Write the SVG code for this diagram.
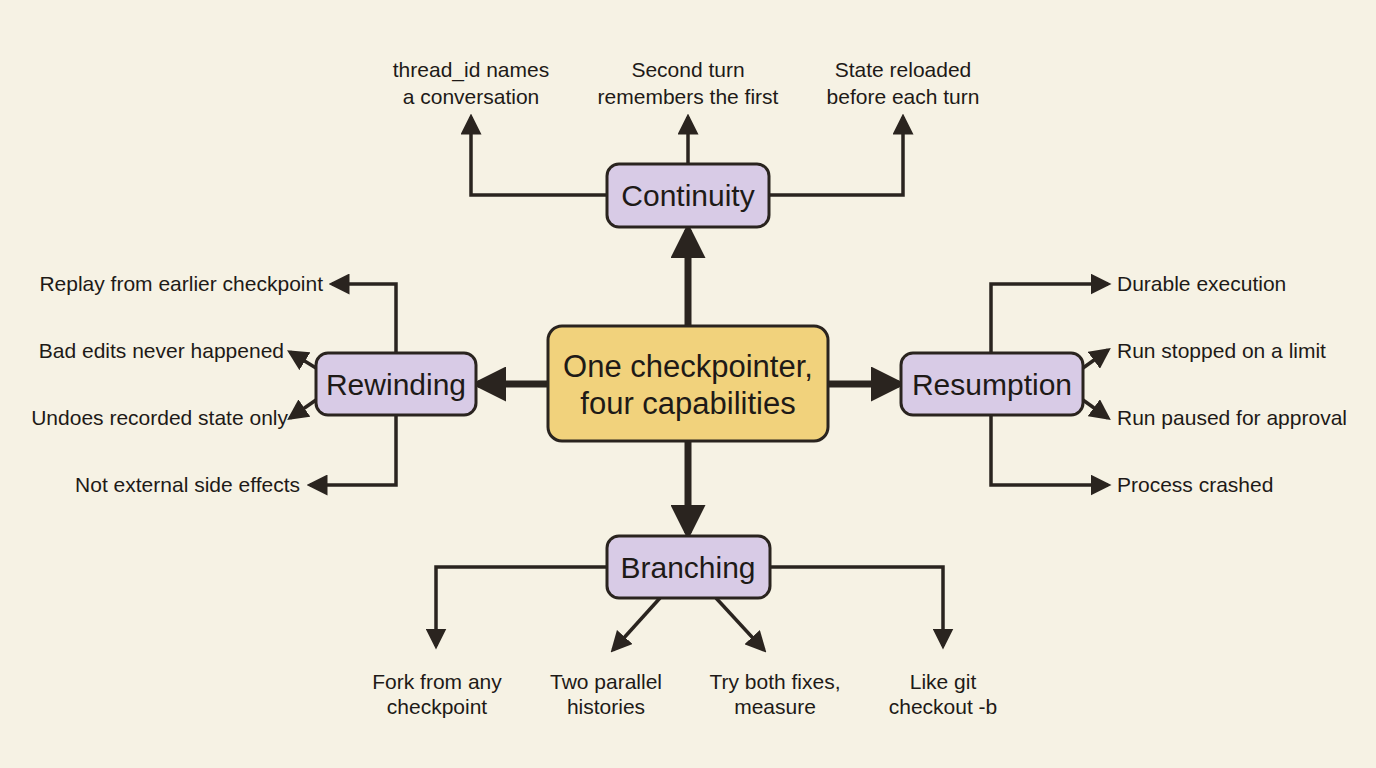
<svg xmlns="http://www.w3.org/2000/svg" width="1376" height="768" viewBox="0 0 1376 768">
<style>
.n{fill:#d8cbe6;stroke:#2a241f;stroke-width:3}
.t{font-family:"Liberation Sans",Arial,sans-serif;fill:#1e1a17}
.big{font-size:30px}
.cen{font-size:31px}
.sm{font-size:21px}
.c path{fill:none;stroke:#2a241f;stroke-width:3.5;marker-end:url(#a)}
.c path.th{stroke-width:7;marker-end:url(#b)}
</style>
<defs>
<marker id="a" markerWidth="6" markerHeight="6" refX="5" refY="3" orient="auto" markerUnits="strokeWidth"><path d="M0,0L6,3L0,6z" fill="#2a241f"/></marker>
<marker id="b" markerWidth="5" markerHeight="5" refX="4" refY="2.5" orient="auto" markerUnits="strokeWidth"><path d="M0,0L5,2.5L0,5z" fill="#2a241f"/></marker>
</defs>
<rect width="1376" height="768" fill="#f6f2e4"/>
<g class="c">
<path class="th" d="M688,326V230"/>
<path class="th" d="M548,384H478"/>
<path class="th" d="M828,384H899"/>
<path class="th" d="M688,441V533"/>
<path d="M607,195H471V117"/>
<path d="M688,164V117"/>
<path d="M769,195H903V117"/>
<path d="M396,353V284H332"/>
<path d="M396,415V485H310"/>
<path d="M316,368L290,352"/>
<path d="M316,400L290,418"/>
<path d="M991,353V284H1108"/>
<path d="M991,415V485H1108"/>
<path d="M1083,368L1108,350"/>
<path d="M1083,400L1108,418"/>
<path d="M607,567H436V646"/>
<path d="M770,567H943V646"/>
<path d="M660,598L613,650"/>
<path d="M716,598L764,650"/>
</g>
<g id="center"><rect x="548" y="326" width="280" height="115" rx="14" fill="#f1d27c" stroke="#2a241f" stroke-width="3"/>
<text class="t cen" x="688" y="377" text-anchor="middle">One checkpointer,</text>
<text class="t cen" x="688" y="414" text-anchor="middle">four capabilities</text></g>
<g id="continuity"><rect class="n" x="607" y="164" width="162" height="63" rx="12"/><text class="t big" x="688" y="206" text-anchor="middle">Continuity</text></g>
<g id="rewinding"><rect class="n" x="316" y="353" width="160" height="62" rx="12"/><text class="t big" x="396" y="395" text-anchor="middle">Rewinding</text></g>
<g id="resumption"><rect class="n" x="901" y="353" width="182" height="62" rx="12"/><text class="t big" x="992" y="395" text-anchor="middle">Resumption</text></g>
<g id="branching"><rect class="n" x="607" y="536" width="163" height="62" rx="12"/><text class="t big" x="688" y="578" text-anchor="middle">Branching</text></g>
<g id="labels" class="t sm">
<text x="471" y="77" text-anchor="middle">thread_id names</text><text x="471" y="104" text-anchor="middle">a conversation</text>
<text x="688" y="77" text-anchor="middle">Second turn</text><text x="688" y="104" text-anchor="middle">remembers the first</text>
<text x="903" y="77" text-anchor="middle">State reloaded</text><text x="903" y="104" text-anchor="middle">before each turn</text>
<text x="323" y="291" text-anchor="end">Replay from earlier checkpoint</text>
<text x="284" y="358" text-anchor="end">Bad edits never happened</text>
<text x="288" y="425" text-anchor="end">Undoes recorded state only</text>
<text x="300" y="492" text-anchor="end">Not external side effects</text>
<text x="1117" y="291">Durable execution</text>
<text x="1117" y="358">Run stopped on a limit</text>
<text x="1117" y="425">Run paused for approval</text>
<text x="1117" y="492">Process crashed</text>
<text x="437" y="689" text-anchor="middle">Fork from any</text><text x="437" y="714" text-anchor="middle">checkpoint</text>
<text x="606" y="689" text-anchor="middle">Two parallel</text><text x="606" y="714" text-anchor="middle">histories</text>
<text x="775" y="689" text-anchor="middle">Try both fixes,</text><text x="775" y="714" text-anchor="middle">measure</text>
<text x="943" y="689" text-anchor="middle">Like git</text><text x="943" y="714" text-anchor="middle">checkout -b</text>
</g>
</svg>
